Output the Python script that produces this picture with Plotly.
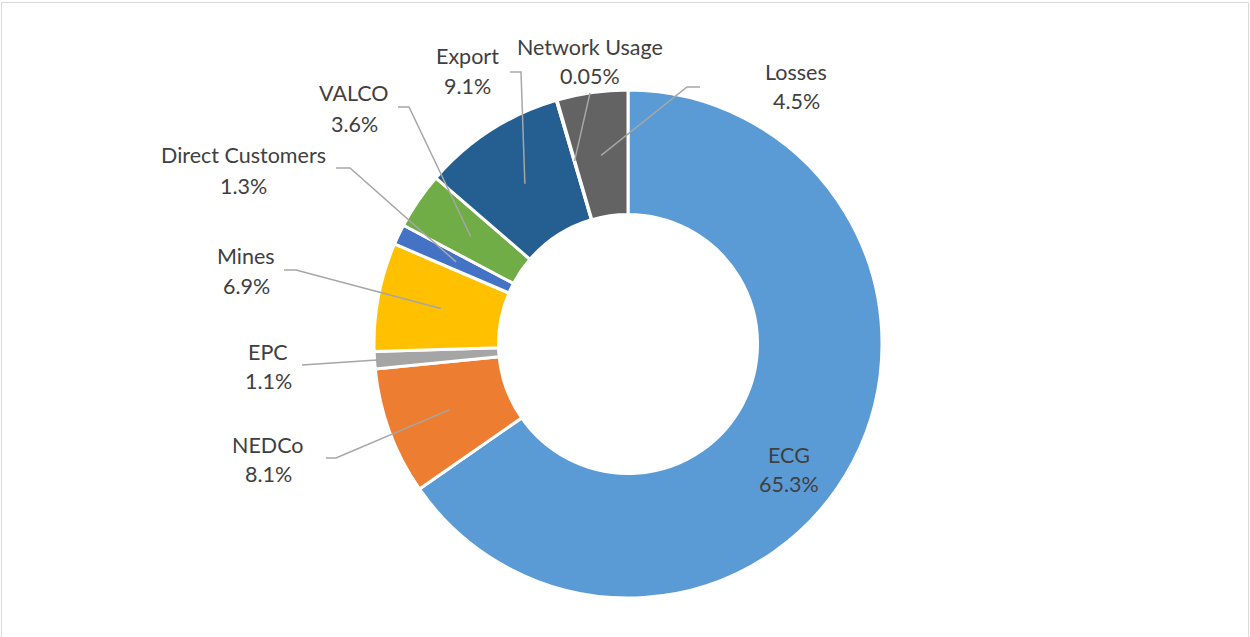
import numpy as np
import plotly.graph_objects as go

# ---- data ----
labels = ["ECG", "NEDCo", "EPC", "Mines", "Direct Customers", "VALCO",
          "Export", "Network Usage", "Losses"]
values = [65.3, 8.1, 1.1, 6.9, 1.3, 3.6, 9.1, 0.05, 4.5]
colors = ["#5B9BD5", "#ED7D31", "#A5A5A5", "#FFC000", "#4472C4", "#70AD47",
          "#255E91", "#9E480E", "#636363"]

# ---- layout config (pixels) ----
W, H = 1250, 637
CX, CY, R = 628, 344, 254
HOLE = 0.51
# label text centre x, name y, value y
label_xy = {
    "ECG": (789, 455, 484),
    "NEDCo": (268, 445, 474),
    "EPC": (268, 352, 381),
    "Mines": (246, 256, 286),
    "Direct Customers": (243, 155, 186),
    "VALCO": (354, 93, 124),
    "Export": (467, 56, 86),
    "Network Usage": (590, 47, 76),
    "Losses": (796, 72, 101),
}
# leader line: radius fraction of start point, then elbow/end points
leaders = {
    "NEDCo": (0.75, [(336, 458), (326, 458)]),
    "EPC": (0.99, [(302, 365)]),
    "Mines": (0.75, [(296, 270), (284, 270)]),
    "Direct Customers": (0.75, [(350, 168), (336, 168)]),
    "VALCO": (0.75, [(409, 107), (398, 107)]),
    "Export": (0.75, [(521, 72), (510, 72)]),
    "Network Usage": (0.75, [(590, 93)]),
    "Losses": (0.75, [(687, 87), (700, 87)]),
}

def px(x):
    return x / W

def py(y):
    return 1 - y / H

fig = go.Figure(go.Pie(
    labels=labels, values=values, sort=False, direction="clockwise",
    rotation=0, hole=HOLE, textinfo="none", hoverinfo="label+percent",
    marker=dict(colors=colors, line=dict(color="white", width=3)),
    domain=dict(x=[px(CX - R), px(CX + R)], y=[py(CY + R), py(CY - R)]),
    showlegend=False,
))

total = sum(values)
cum = np.cumsum([0] + values)
shapes = []
for i, lab in enumerate(labels):
    if lab not in leaders:
        continue
    frac, pts = leaders[lab]
    mid = (cum[i] + values[i] / 2) / total * 2 * np.pi
    sx = CX + frac * R * np.sin(mid)
    sy = CY - frac * R * np.cos(mid)
    allpts = [(sx, sy)] + pts
    path = "M " + " L ".join(f"{px(x):.5f},{py(y):.5f}" for x, y in allpts)
    shapes.append(dict(type="path", xref="paper", yref="paper", path=path,
                       line=dict(color="#A6A6A6", width=1.5)))

# border
shapes.append(dict(type="rect", xref="paper", yref="paper",
                   x0=px(1.5), x1=px(1248.5), y0=py(645), y1=py(2.5),
                   line=dict(color="#D9D9D9", width=1), layer="below"))

annotations = []
font = dict(family="Lato, Open Sans, sans-serif", size=21.5, color="#404040")
for lab, v in zip(labels, values):
    x, yn, yv = label_xy[lab]
    annotations.append(dict(text=lab, x=px(x), y=py(yn), xref="paper", yref="paper",
                            showarrow=False, font=font, xanchor="center", yanchor="middle"))
    annotations.append(dict(text=f"{v:g}%", x=px(x), y=py(yv), xref="paper", yref="paper",
                            showarrow=False, font=font, xanchor="center", yanchor="middle"))

fig.update_layout(width=W, height=H, margin=dict(l=0, r=0, t=0, b=0),
                  paper_bgcolor="white", plot_bgcolor="white",
                  shapes=shapes, annotations=annotations)
fig.write_html("out.html", config={"displayModeBar": False},
               post_script="document.body.style.margin='0';document.body.style.overflow='hidden';")
